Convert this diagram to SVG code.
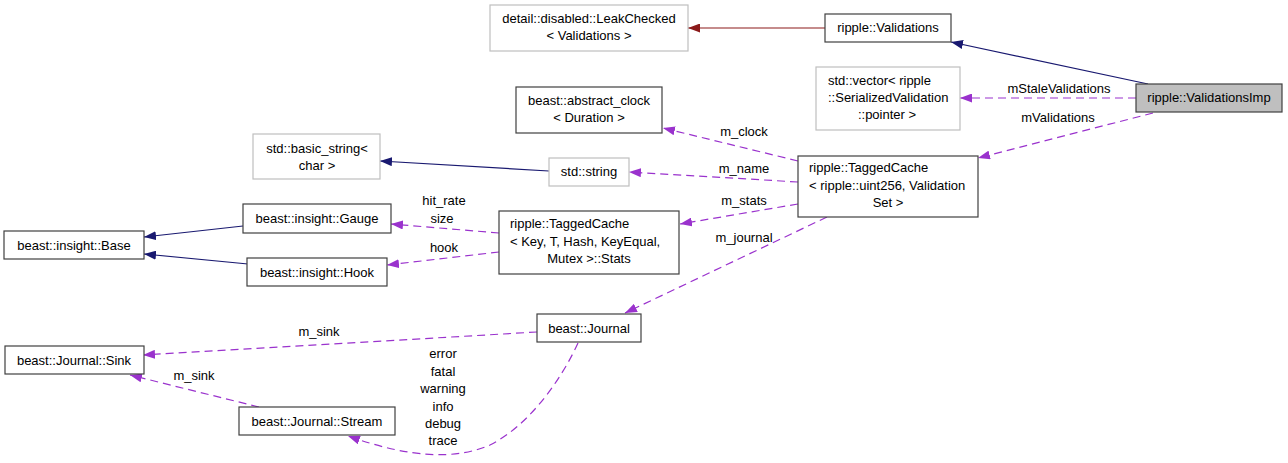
<svg xmlns="http://www.w3.org/2000/svg" width="1288" height="463" viewBox="0 0 1288 463">
<style>
text{font-family:"Liberation Sans",Arial,sans-serif;font-size:13px;fill:#000}
.c{text-anchor:middle}
.n{fill:#fff;stroke:#404040;stroke-width:1.2}
.g{fill:#fff;stroke:#bfbfbf;stroke-width:1.2}
.h{fill:#bfbfbf;stroke:#404040;stroke-width:1.2}
.inh{fill:none;stroke:#191970;stroke-width:1.2;marker-end:url(#ab)}
.prv{fill:none;stroke:#8b1a1a;stroke-width:1.2;marker-end:url(#ar)}
.use{fill:none;stroke:#9a32cd;stroke-width:1.2;stroke-dasharray:8,5;marker-end:url(#ap)}
</style>
<defs>
<marker id="ab" markerUnits="userSpaceOnUse" viewBox="0 0 12 9" refX="12" refY="4.5" markerWidth="12" markerHeight="9" orient="auto"><path d="M0,0 L12,4.5 L0,9 z" fill="#191970"/></marker>
<marker id="ar" markerUnits="userSpaceOnUse" viewBox="0 0 12 9" refX="12" refY="4.5" markerWidth="12" markerHeight="9" orient="auto"><path d="M0,0 L12,4.5 L0,9 z" fill="#8b1a1a"/></marker>
<marker id="ap" markerUnits="userSpaceOnUse" viewBox="0 0 12 9" refX="12" refY="4.5" markerWidth="12" markerHeight="9" orient="auto"><path d="M0,0 L12,4.5 L0,9 z" fill="#9a32cd"/></marker>
</defs>
<rect width="1288" height="463" fill="#fff"/>
<g id="connectors">
<path class="inh" d="M1148,84 L951,42"/>
<path class="prv" d="M825,28 L688,28"/>
<path class="use" d="M1136,98 L960,98"/>
<path class="use" d="M1153,113 L978,158"/>
<path class="use" d="M798,161 L663,128"/>
<path class="use" d="M798,182 L629,172"/>
<path class="use" d="M798,204 L680,224"/>
<path class="use" d="M827,217 L625,313"/>
<path class="inh" d="M549,171 L380,161"/>
<path class="use" d="M499,233 L391,224"/>
<path class="use" d="M499,252 L387,265"/>
<path class="inh" d="M243,226 L144,237"/>
<path class="inh" d="M248,264 L144,254"/>
<path class="use" d="M537,332 L143,355"/>
<path class="use" d="M259,407 L130,375"/>
<path class="use" d="M578,343 C562,378 530,425 490,445 C455,460 410,458 348,436"/>
<text class="c" x="1059" y="93">mStaleValidations</text>
<text class="c" x="1058" y="122">mValidations</text>
<text class="c" x="744" y="136">m_clock</text>
<text class="c" x="744" y="173">m_name</text>
<text class="c" x="744" y="205">m_stats</text>
<text class="c" x="744" y="242">m_journal</text>
<text class="c" x="444" y="205">hit_rate</text>
<text class="c" x="442" y="223">size</text>
<text class="c" x="444" y="252">hook</text>
<text class="c" x="319" y="336">m_sink</text>
<text class="c" x="194" y="380">m_sink</text>
<text class="c" x="443" y="358">error</text>
<text class="c" x="443" y="376">fatal</text>
<text class="c" x="443" y="393">warning</text>
<text class="c" x="443" y="411">info</text>
<text class="c" x="443" y="428">debug</text>
<text class="c" x="443" y="445">trace</text>
</g>
<g id="ValidationsImp"><rect class="h" x="1136" y="84" width="146" height="28"/><text class="c" x="1209" y="102">ripple::ValidationsImp</text></g>
<g id="Validations"><rect class="n" x="825" y="14" width="126" height="28"/><text class="c" x="888" y="32">ripple::Validations</text></g>
<g id="LeakChecked"><rect class="g" x="490" y="5" width="198" height="46"/><text class="c" x="589" y="23">detail::disabled::LeakChecked</text><text class="c" x="589" y="40">&lt; Validations &gt;</text></g>
<g id="vector"><rect class="g" x="816" y="67" width="144" height="63"/><text x="828" y="85">std::vector&lt; ripple</text><text x="828" y="102">::SerializedValidation</text><text class="c" x="887" y="119">::pointer &gt;</text></g>
<g id="abstract_clock"><rect class="n" x="516" y="87" width="146" height="46"/><text class="c" x="589" y="105">beast::abstract_clock</text><text class="c" x="589" y="122">&lt; Duration &gt;</text></g>
<g id="TaggedCache"><rect class="n" x="798" y="156" width="180" height="61"/><text x="809" y="172">ripple::TaggedCache</text><text x="809" y="190">&lt; ripple::uint256, Validation</text><text class="c" x="888" y="207">Set &gt;</text></g>
<g id="basic_string"><rect class="g" x="253" y="134" width="127" height="45"/><text class="c" x="317" y="153">std::basic_string&lt;</text><text class="c" x="317" y="170">char &gt;</text></g>
<g id="string"><rect class="g" x="549" y="158" width="80" height="28"/><text class="c" x="589" y="176">std::string</text></g>
<g id="Stats"><rect class="n" x="499" y="211" width="180" height="63"/><text x="510" y="228">ripple::TaggedCache</text><text x="510" y="246">&lt; Key, T, Hash, KeyEqual,</text><text class="c" x="589" y="263">Mutex &gt;::Stats</text></g>
<g id="Gauge"><rect class="n" x="243" y="204" width="148" height="29"/><text class="c" x="317" y="223">beast::insight::Gauge</text></g>
<g id="Hook"><rect class="n" x="247" y="258" width="140" height="28"/><text class="c" x="317" y="277">beast::insight::Hook</text></g>
<g id="Base"><rect class="n" x="4" y="231" width="140" height="28"/><text class="c" x="74" y="250">beast::insight::Base</text></g>
<g id="Journal"><rect class="n" x="537" y="314" width="104" height="28"/><text class="c" x="589" y="333">beast::Journal</text></g>
<g id="Sink"><rect class="n" x="5" y="346" width="139" height="28"/><text class="c" x="74" y="365">beast::Journal::Sink</text></g>
<g id="Stream"><rect class="n" x="239" y="407" width="156" height="28"/><text class="c" x="317" y="426">beast::Journal::Stream</text></g>
</svg>
